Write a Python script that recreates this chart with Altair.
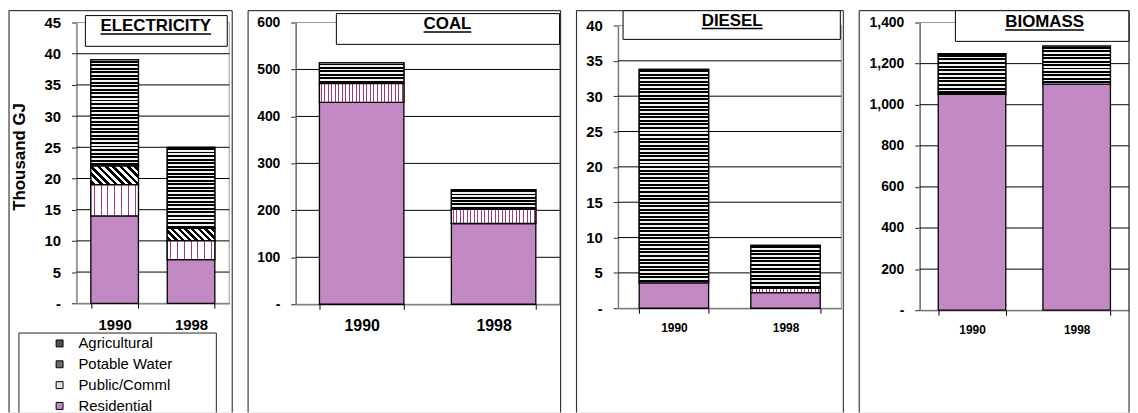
import math
import altair as alt
import pandas as pd

# ---------------- data ----------------
years = ["1990", "1998"]
sectors = ["Agricultural", "Potable Water", "Public/Comml", "Residential"]

electricity_1990 = [17.0, 3.0, 5.0, 14.0]
electricity_1998 = [13.0, 2.0, 3.0, 7.0]
coal_1990 = [44.0, 0.0, 40.0, 430.0]
coal_1998 = [42.0, 0.0, 30.0, 172.0]
diesel_1990 = [30.2, 0.0, 0.0, 3.6]
diesel_1998 = [6.1, 0.0, 0.6, 2.2]
biomass_1990 = [198.0, 0.0, 0.0, 1050.0]
biomass_1998 = [185.0, 0.0, 0.0, 1100.0]

fuel_titles = ["ELECTRICITY", "COAL", "DIESEL", "BIOMASS"]
fuel_values = [
    (electricity_1990, electricity_1998),
    (coal_1990, coal_1998),
    (diesel_1990, diesel_1998),
    (biomass_1990, biomass_1998),
]
axis_max = [45, 600, 40, 1400]
axis_step = [5, 100, 5, 200]
y_title = "Thousand GJ"

# ---------------- styles / layout ----------------
FONT = "Liberation Sans"
H = 405
SPACING = 16
sector_colors = ["#505050", "#6a6a6a", "#efdbe7", "#c289c5"]
stack_rank = {"Residential": 0, "Public/Comml": 1, "Potable Water": 2, "Agricultural": 3}

layouts = [
    dict(w=225, left=68, right=222, top=12, zero=295, pad=0.377, xfs=15, xlp=9, yfs=15,
         box=(77, 5, 220, 36), tcx=148, tby=21, uly=23.5, pub_period=6.9),
    dict(w=315, left=48, right=314, top=12, zero=296, pad=0.36, xfs=16, xlp=8, yfs=14,
         box=(89, 3, 314, 34), tcx=201, tby=19, uly=21.5, pub_period=3.5),
    dict(w=269, left=42, right=267, top=15, zero=300, pad=0.378, xfs=12, xlp=9, yfs=15,
         box=(47, 0, 266, 29), tcx=157, tby=15.5, uly=18, pub_period=3.5),
    dict(w=272, left=61, right=272, top=12, zero=302, pad=0.355, xfs=12, xlp=9, yfs=14,
         box=(97, 0, 272, 31), tcx=187, tby=17, uly=19.5, pub_period=3.5),
]

# Arial-bold cap widths (em) used for the underline length of the titles
CAPW = {"A": .722, "B": .722, "C": .722, "D": .722, "E": .667, "I": .278, "L": .611,
        "M": .833, "O": .778, "R": .722, "S": .667, "T": .611, "Y": .667}
TITLE_FS = 17


def stripes(n, frac, phase, ink, paper, x1, y1, x2, y2):
    stops = []
    for k in range(n):
        a = k / n
        b = (k + phase) / n
        c = (k + phase + frac) / n
        d = (k + 1) / n
        stops += [
            {"offset": round(a, 5), "color": paper},
            {"offset": round(b, 5), "color": paper},
            {"offset": round(b, 5), "color": ink},
            {"offset": round(c, 5), "color": ink},
            {"offset": round(c, 5), "color": paper},
            {"offset": round(d, 5), "color": paper},
        ]
    return {"gradient": "linear", "x1": x1, "y1": y1, "x2": x2, "y2": y2, "stops": stops}


def pattern(sector, w, h, L):
    if sector == "Agricultural":
        n = max(1, round(h / 3.6))
        return stripes(n, 0.55, 0.2, "#000000", "#f2f2f2", 0, 0, 0, 1)
    if sector == "Public/Comml":
        n = max(1, round(w / L["pub_period"]))
        f = min(0.5, 1.0 / L["pub_period"])
        return stripes(n, f, 0.5 - f / 2, "#a3347f", "#ffffff", 0, 0, 1, 0)
    if sector == "Potable Water":
        n = max(1, round((w + h) / (math.sqrt(2) * 5.0)))
        s = w * w + h * h
        return stripes(n, 0.5, 0.25, "#000000", "#ffffff",
                       0, 1, (w + h) * w / s, 1 - (w + h) * h / s)
    return None


def build_panel(i):
    L = layouts[i]
    v90, v98 = fuel_values[i]
    rows = []
    for yr, vals in zip(years, (v90, v98)):
        for s, v in zip(sectors, vals):
            rows.append({"year": yr, "sector": s, "value": v, "rank": stack_rank[s]})
    df = pd.DataFrame(rows)
    ymax, step = axis_max[i], axis_step[i]
    ticks = list(range(0, ymax + 1, step))

    xscale = alt.Scale(domain=years, range=[L["left"], L["right"]],
                       paddingInner=L["pad"], paddingOuter=L["pad"] / 2)
    yscale = alt.Scale(domain=[0, ymax], range=[L["zero"], L["top"]], nice=False, zero=False)

    yaxis_kw = dict(values=ticks, offset=-L["left"], grid=False, tickSize=5,
                    tickColor="#222", domainColor="#333", labelPadding=11,
                    labelFontSize=L["yfs"], labelFontWeight="bold", labelFont=FONT,
                    labelColor="black",
                    labelExpr="datum.value == 0 ? '-' : format(datum.value, ',')")
    if i == 0:
        yaxis = alt.Axis(title=y_title, titleFont=FONT, titleFontSize=17,
                         titleFontWeight="bold", titleColor="black", titleAngle=270,
                         titleAlign="center", titleBaseline="middle",
                         titleX=11 - L["left"], titleY=147, **yaxis_kw)
    else:
        yaxis = alt.Axis(title=None, **yaxis_kw)
    xaxis = alt.Axis(orient="bottom", offset=L["zero"] - H, tickBand="extent",
                     labelAngle=0, labelFontSize=L["xfs"], labelFontWeight="bold",
                     labelFont=FONT, labelColor="black", labelPadding=L["xlp"],
                     tickSize=5, tickColor="black", domainColor="black",
                     title=None, grid=False)

    X = alt.X("year:N", scale=xscale, axis=xaxis)
    deco = pd.DataFrame({"t": [fuel_titles[i]]})

    layers = []
    # plot-area frame (grey)
    layers.append(alt.Chart(deco).mark_rect(fillOpacity=0, stroke="#9a9a9a", strokeWidth=1).encode(
        x=alt.value(L["left"]), x2=alt.value(L["right"]),
        y=alt.value(L["top"]), y2=alt.value(L["zero"])))
    # gridlines
    layers.append(alt.Chart(pd.DataFrame({"v": ticks[1:-1]})).mark_rule(
        color="black", strokeWidth=1).encode(
        y=alt.Y("v:Q", scale=yscale, axis=yaxis),
        x=alt.value(L["left"]), x2=alt.value(L["right"])))

    base = alt.Chart(df).transform_filter("datum.value > 0").transform_stack(
        stack="value", groupby=["year"],
        sort=[alt.SortField("rank", order="ascending")], as_=["y0", "y1"])

    legend = None
    if i == 0:
        legend = alt.Legend(orient="none", legendX=43.5, legendY=328, title=None,
                            symbolType="square", symbolSize=49,
                            symbolStrokeColor="black", symbolStrokeWidth=1,
                            labelFont=FONT, labelFontSize=15, labelColor="black",
                            labelOffset=11.5, rowPadding=5, padding=0, symbolOpacity=1)
    layers.append(base.mark_bar(stroke="black", strokeWidth=1.3).encode(
        x=X,
        y=alt.Y("y0:Q", scale=yscale, axis=yaxis),
        y2=alt.Y2("y1:Q"),
        color=alt.Color("sector:N", scale=alt.Scale(domain=sectors, range=sector_colors),
                        legend=legend)))

    # hatch overlays
    bw = (L["right"] - L["left"]) / 2 * (1 - L["pad"])
    ppu = (L["zero"] - L["top"]) / ymax
    for yr, vals in zip(years, (v90, v98)):
        for s, v in zip(sectors, vals):
            if v <= 0:
                continue
            g = pattern(s, bw, v * ppu, L)
            if g is None:
                continue
            layers.append(base.transform_filter(
                f"datum.year == '{yr}' && datum.sector == '{s}'").mark_bar(
                fill=g, stroke="black", strokeWidth=1.3).encode(
                x=X, y=alt.Y("y0:Q", scale=yscale, axis=yaxis), y2=alt.Y2("y1:Q")))

    # title box with underlined title
    bx0, by0, bx1, by1 = L["box"]
    layers.append(alt.Chart(deco).mark_rect(fill="white", stroke="black", strokeWidth=1).encode(
        x=alt.value(bx0), x2=alt.value(bx1), y=alt.value(by0), y2=alt.value(by1)))
    layers.append(alt.Chart(deco).mark_text(font=FONT, fontSize=TITLE_FS, fontWeight="bold",
                                            align="center", baseline="alphabetic",
                                            color="black").encode(
        text="t:N", x=alt.value(L["tcx"]), y=alt.value(L["tby"])))
    tw = sum(CAPW.get(c, 0.7) for c in fuel_titles[i]) * TITLE_FS
    layers.append(alt.Chart(deco).mark_rule(color="black", strokeWidth=1.5).encode(
        x=alt.value(L["tcx"] - tw / 2), x2=alt.value(L["tcx"] + tw / 2), y=alt.value(L["uly"])))

    # panel border (top, left, right – bottom is off the page)
    layers.append(alt.Chart(deco).mark_rule(color="#222", strokeWidth=1).encode(
        x=alt.value(0), x2=alt.value(L["w"]), y=alt.value(0)))
    layers.append(alt.Chart(deco).mark_rule(color="#222", strokeWidth=1).encode(
        x=alt.value(0), y=alt.value(0), y2=alt.value(H)))
    layers.append(alt.Chart(deco).mark_rule(color="#222", strokeWidth=1).encode(
        x=alt.value(L["w"]), y=alt.value(0), y2=alt.value(H)))

    if i == 0:
        # legend frame
        for rx, ry, rx2, ry2 in [(10, 325, 209, None), (10, 325, None, H), (209, 325, None, H)]:
            enc = dict(x=alt.value(rx), y=alt.value(ry))
            if rx2 is not None:
                enc["x2"] = alt.value(rx2)
            if ry2 is not None:
                enc["y2"] = alt.value(ry2)
            layers.append(alt.Chart(deco).mark_rule(color="#222", strokeWidth=1).encode(**enc))

    return alt.layer(*layers).properties(width=L["w"], height=H)


panels = [build_panel(i) for i in range(4)]

chart = alt.hconcat(*panels, spacing=SPACING, bounds="flush", padding=0).resolve_scale(
    x="independent", y="independent", color="independent").resolve_legend(
    color="independent").configure_view(stroke=None).configure(font=FONT, background="white")

chart.save("out.html", embed_options={"renderer": "svg", "actions": False})
